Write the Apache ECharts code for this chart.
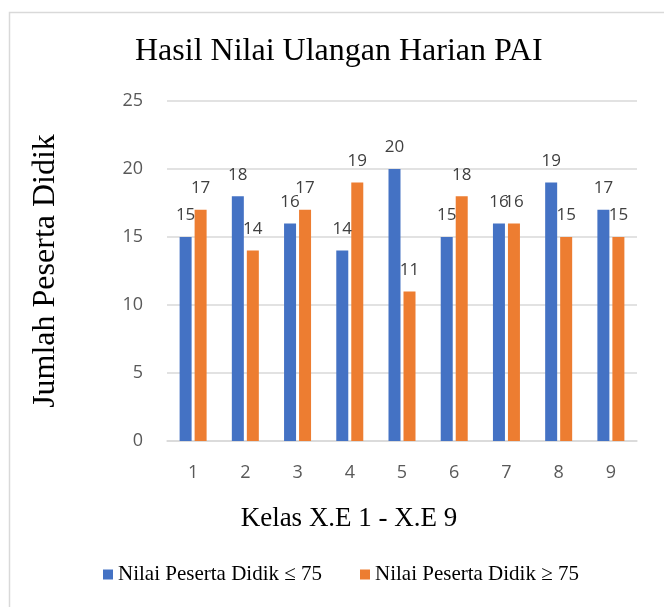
<!DOCTYPE html>
<html>
<head>
<meta charset="utf-8">
<script src="https://cdn.jsdelivr.net/npm/echarts@6/dist/echarts.min.js"></script>
<style>html,body{margin:0;padding:0;background:#fff}#c{width:664px;height:607px}</style>
</head>
<body>
<div id="c"></div>
<script>
const categories = ['1','2','3','4','5','6','7','8','9'];
const seriesNames = ['Nilai Peserta Didik ≤ 75', 'Nilai Peserta Didik ≥ 75'];
const belowValues = [15, 18, 16, 14, 20, 15, 16, 19, 17];
const aboveValues = [17, 14, 17, 19, 11, 18, 16, 15, 15];
const yTicks = [0, 5, 10, 15, 20, 25];

const chart = echarts.init(document.getElementById('c'), null, {renderer: 'canvas'});
const serif = 'Liberation Serif';
const sans = 'Open Sans';
const labelCfg = {show: true, position: 'top', distance: 13, color: '#404040', fontSize: 17, fontFamily: sans};
chart.setOption({
  animation: false,
  backgroundColor: '#fff',
  textStyle: {fontFamily: serif},
  graphic: [{type: 'rect', shape: {x: 9.5, y: 12.5, width: 700, height: 700}, style: {fill: 'none', stroke: '#D9D9D9', lineWidth: 1.5}, silent: true}],
  title: {text: 'Hasil Nilai Ulangan Harian PAI', left: 130, top: 31, padding: 5, textStyle: {fontFamily: serif, fontSize: 32, fontWeight: 'normal', color: '#000'}},
  legend: {bottom: 17, left: 98, itemWidth: 10, itemHeight: 10, itemGap: 38, icon: 'rect',
    textStyle: {fontFamily: serif, fontSize: 21, color: '#000'}, data: seriesNames},
  grid: {left: 167, right: 27, top: 101, bottom: 166},
  xAxis: {type: 'category', data: categories, name: 'Kelas X.E 1 - X.E 9', nameLocation: 'middle', nameGap: 64,
    nameTextStyle: {fontFamily: serif, fontSize: 27, color: '#000', padding: [0, 106, 0, 0]},
    axisLine: {lineStyle: {color: '#D9D9D9', width: 1.5}}, axisTick: {show: false},
    axisLabel: {color: '#595959', fontSize: 18, fontFamily: sans, margin: 23}},
  yAxis: {type: 'value', min: yTicks[0], max: yTicks[yTicks.length-1], interval: 5, name: 'Jumlah Peserta Didik', nameLocation: 'middle', nameGap: 105,
    nameTextStyle: {fontFamily: serif, fontSize: 32, color: '#000'},
    axisLine: {show: false}, axisTick: {show: false},
    splitLine: {lineStyle: {color: '#D9D9D9', width: 1.5}},
    axisLabel: {color: '#595959', fontSize: 18, fontFamily: sans, margin: 24}},
  series: [
    {name: seriesNames[0], type: 'bar', data: belowValues, barWidth: 12, barGap: '25%', itemStyle: {color: '#4472C4'}, label: labelCfg},
    {name: seriesNames[1], type: 'bar', data: aboveValues, barWidth: 12, barGap: '25%', itemStyle: {color: '#ED7D31'}, label: labelCfg}
  ]
});
</script>
</body>
</html>
